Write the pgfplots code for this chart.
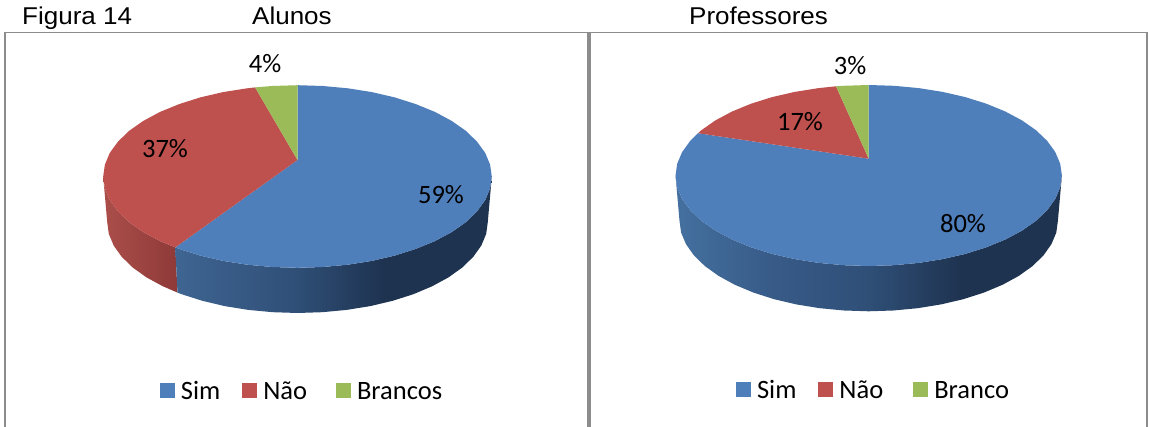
\documentclass[border=0pt]{standalone}
\usepackage{fontspec}
\setmainfont[FakeStretch=1.07]{Liberation Sans}
\newfontfamily\calibri{Carlito}
\usepackage{pgfplots}
\pgfplotsset{compat=1.18}

\definecolor{simc}{HTML}{4F7FBB}
\definecolor{naoc}{HTML}{BE504D}
\definecolor{brac}{HTML}{9BBB59}
\definecolor{framec}{HTML}{8C8C8C}
\definecolor{wallA}{HTML}{3F6592}
\definecolor{wallB}{HTML}{2F4F77}
\definecolor{wallC}{HTML}{1E3350}
\definecolor{wallD}{HTML}{44709F}
\definecolor{wallE}{HTML}{375A87}
\definecolor{redA}{HTML}{AB4E4A}
\definecolor{redB}{HTML}{8E3A38}

% positions 25bp..75bp span the width of the filled path
\pgfdeclarehorizontalshading{bluewallL}{100bp}{color(0bp)=(wallA); color(25bp)=(wallA); color(44bp)=(wallB); color(58bp)=(wallC); color(100bp)=(wallC)}
\pgfdeclarehorizontalshading{bluewallR}{100bp}{color(0bp)=(wallD); color(25bp)=(wallD); color(38bp)=(wallE); color(50bp)=(wallB); color(62bp)=(wallC); color(100bp)=(wallC)}
\pgfdeclarehorizontalshading{redwall}{100bp}{color(0bp)=(redA); color(25bp)=(redA); color(75bp)=(redB); color(100bp)=(redB)}

\tikzset{
  lab/.style={font=\calibri\fontsize{26.5}{30}\selectfont, inner sep=0pt},
  tit/.style={font=\fontsize{24.3}{28}\selectfont, inner sep=0pt},
}
\pgfplotsset{
  panel/.style={
    scale only axis, height=427pt, ymin=0, ymax=427, y dir=reverse,
    hide axis, clip=false, anchor=south west,
    legend columns=3,
    legend image code/.code={\fill[##1] (0pt,-7.5pt) rectangle (15pt,7.5pt);},
    legend style={draw=none, fill=none, anchor=center, font=\calibri\fontsize{26.5}{29}\selectfont,
      inner sep=0pt, nodes={text height=18.6pt, text depth=1pt},
      /tikz/every odd column/.append style={column sep=4pt}},
  },
}

\begin{document}
\begin{tikzpicture}[x=1pt,y=1pt]
\useasboundingbox (0,0) rectangle (1149,427);

\begin{axis}[panel, at={(0,0)}, width=589.5pt, xmin=0, xmax=589.5,
    legend style={at={(axis cs:302,390.5)},
      /tikz/column 2/.style={column sep=20pt}, /tikz/column 4/.style={column sep=27pt}}]
  % frame
  \addplot[framec, line width=1.6pt, forget plot] coordinates {(5,427) (5,32.5) (587,32.5)};
  \addplot[framec, line width=3.5pt, forget plot] coordinates {(589,32) (589,427)};
  % side walls
  \addplot[draw=none, shading=redwall, forget plot] coordinates {
    (175.3,247.4) (160.1,241.1) (143.3,232.1) (129.2,222.2) (118.0,211.4) (109.8,200.1) (104.9,188.4) (103.2,176.5)
    (107.2,222) (108.8,233.9) (113.7,245.6) (121.7,256.8) (132.7,267.5) (146.5,277.4) (162.9,286.3) (177.5,292.6)} -- cycle;
  \addplot[draw=none, shading=bluewallL, forget plot] coordinates {
    (175.3,247.4) (179.2,248.9) (200.3,255.6) (223.1,260.9) (247.2,264.7) (272.1,267.0) (297.5,267.8)
    (322.9,267.0) (347.8,264.7) (371.9,260.9) (394.7,255.6) (415.8,248.9) (434.9,241.1) (451.7,232.1)
    (465.8,222.2) (477.0,211.4) (485.2,200.1) (490.1,188.4) (491.8,176.5)
    (487.8,222) (486.2,233.9) (481.3,245.6) (473.3,256.8) (462.3,267.5) (448.5,277.4) (432.1,286.3)
    (413.4,294.2) (392.7,300.8) (370.3,306.1) (346.8,309.9) (322.3,312.2) (297.5,313)
    (272.7,312.2) (248.2,309.9) (224.7,306.1) (202.3,300.8) (181.6,294.2) (177.5,292.6)} -- cycle;
  % top of the pie
  \addplot[draw=none, fill=simc] coordinates {
    (297.5,160) (297.5,85.2) (322.9,86.0) (347.8,88.3) (371.9,92.1) (394.7,97.4) (415.8,104.1) (434.9,111.9)
    (451.7,120.9) (465.8,130.8) (477.0,141.6) (485.2,152.9) (490.1,164.6) (491.8,176.5)
    (490.1,188.4) (485.2,200.1) (477.0,211.4) (465.8,222.2) (451.7,232.1) (434.9,241.1) (415.8,248.9)
    (394.7,255.6) (371.9,260.9) (347.8,264.7) (322.9,267.0) (297.5,267.8) (272.1,267.0) (247.2,264.7)
    (223.1,260.9) (200.3,255.6) (179.2,248.9) (175.3,247.4)} -- cycle;
  \addlegendentry{Sim}
  \addplot[draw=none, fill=naoc] coordinates {
    (297.5,160) (175.3,247.4) (160.1,241.1) (143.3,232.1) (129.2,222.2) (118.0,211.4) (109.8,200.1) (104.9,188.4)
    (103.2,176.5) (104.9,164.6) (109.8,152.9) (118.0,141.6) (129.2,130.8) (143.3,120.9) (160.1,111.9)
    (179.2,104.1) (200.3,97.4) (223.1,92.1) (247.2,88.3) (255.1,87.4)} -- cycle;
  \addlegendentry{Não}
  \addplot[draw=none, fill=brac] coordinates {
    (297.5,160) (255.1,87.4) (272.1,86.0) (297.5,85.2)} -- cycle;
  \addlegendentry{Brancos}
  % labels
  \node[lab] at (axis cs:265,64) {4\%};
  \node[lab] at (axis cs:165,149) {37\%};
  \node[lab] at (axis cs:441,195) {59\%};
  \node[tit, anchor=base west] at (axis cs:22,25) {Figura 14};
  \node[tit, anchor=base west] at (axis cs:252,25) {Alunos};
\end{axis}

\begin{axis}[panel, at={(589.5pt,0)}, width=559.5pt, xmin=589.5, xmax=1149,
    legend style={at={(axis cs:873.5,390)},
      /tikz/column 2/.style={column sep=20pt}, /tikz/column 4/.style={column sep=28pt}}]
  % frame
  \addplot[framec, line width=1.6pt, forget plot] coordinates {(591,32.5) (1147,32.5) (1147,427)};
  % side wall
  \addplot[draw=none, shading=bluewallR, forget plot] coordinates {
    (675.5,175.5) (677.2,187.3) (682.1,198.9) (690.2,210.1) (701.4,220.8) (715.4,230.6) (732.1,239.5)
    (751.1,247.3) (772.1,253.9) (794.8,259.1) (818.7,262.9) (843.5,265.2) (868.7,266.0)
    (893.9,265.2) (918.7,262.9) (942.6,259.1) (965.3,253.9) (986.3,247.3) (1005.3,239.5) (1022.0,230.6)
    (1036.0,220.8) (1047.2,210.1) (1055.3,198.9) (1060.2,187.3) (1061.9,175.5)
    (1057.9,220.8) (1056.3,232.6) (1051.4,244.2) (1043.5,255.4) (1032.5,266.1) (1018.8,275.9) (1002.5,284.8)
    (983.9,292.6) (963.3,299.2) (941.1,304.4) (917.7,308.2) (893.4,310.5) (868.7,311.3)
    (844.0,310.5) (819.7,308.2) (796.3,304.4) (774.1,299.2) (753.5,292.6) (734.9,284.8) (718.6,275.9)
    (704.9,266.1) (693.9,255.4) (686.0,244.2) (681.1,232.6) (679.5,220.8)} -- cycle;
  % top of the pie
  \addplot[draw=none, fill=simc] coordinates {
    (868.7,158.7) (868.7,85.0) (893.9,85.8) (918.7,88.1) (942.6,91.9) (965.3,97.1) (986.3,103.7) (1005.3,111.5)
    (1022.0,120.4) (1036.0,130.2) (1047.2,140.9) (1055.3,152.1) (1060.2,163.7) (1061.9,175.5)
    (1060.2,187.3) (1055.3,198.9) (1047.2,210.1) (1036.0,220.8) (1022.0,230.6) (1005.3,239.5) (986.3,247.3)
    (965.3,253.9) (942.6,259.1) (918.7,262.9) (893.9,265.2) (868.7,266.0) (843.5,265.2) (818.7,262.9)
    (794.8,259.1) (772.1,253.9) (751.1,247.3) (732.1,239.5) (715.4,230.6) (701.4,220.8) (690.2,210.1)
    (682.1,198.9) (677.2,187.3) (675.5,175.5) (677.2,163.7) (682.1,152.1) (690.2,140.9) (698,133.2)} -- cycle;
  \addlegendentry{Sim}
  \addplot[draw=none, fill=naoc] coordinates {
    (868.7,158.7) (698,133.2) (701.4,130.2) (715.4,120.4) (732.1,111.5) (751.1,103.7) (772.1,97.1)
    (794.8,91.9) (818.7,88.1) (836,86.3)} -- cycle;
  \addlegendentry{Não}
  \addplot[draw=none, fill=brac] coordinates {
    (868.7,158.7) (836,86.3) (843.5,85.8) (868.7,85.0)} -- cycle;
  \addlegendentry{Branco}
  % labels
  \node[lab] at (axis cs:850,66) {3\%};
  \node[lab] at (axis cs:800,122) {17\%};
  \node[lab] at (axis cs:963,224) {80\%};
  \node[tit, anchor=base west] at (axis cs:689,25) {Professores};
\end{axis}
\end{tikzpicture}
\end{document}
